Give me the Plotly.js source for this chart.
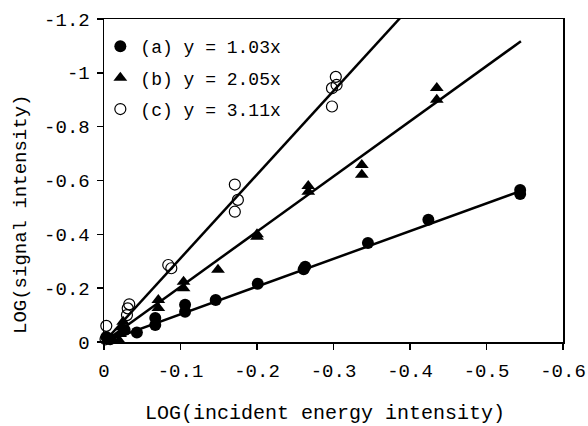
<!DOCTYPE html>
<html>
<head>
<meta charset="utf-8">
<script src="https://cdn.plot.ly/plotly-3.0.1.min.js"></script>
<style>html,body{margin:0;padding:0;background:#fff;}#chart{width:588px;height:426px;}</style>
</head>
<body>
<div id="chart"></div>
<script>
// Series (a): filled circles
const aX = [-0.003, -0.008, -0.027, -0.043, -0.067, -0.067, -0.106, -0.106, -0.146, -0.201, -0.261, -0.263, -0.345, -0.424, -0.544, -0.544];
const aY = [-0.019, -0.010, -0.045, -0.035, -0.063, -0.089, -0.112, -0.138, -0.156, -0.216, -0.270, -0.280, -0.368, -0.454, -0.550, -0.565];
// Series (b): filled triangles
const bX = [-0.020, -0.021, -0.023, -0.025, -0.071, -0.071, -0.104, -0.104, -0.149, -0.200, -0.200, -0.267, -0.267, -0.337, -0.337, -0.435, -0.435];
const bY = [-0.005, -0.030, -0.055, -0.075, -0.126, -0.156, -0.200, -0.224, -0.268, -0.391, -0.400, -0.558, -0.580, -0.621, -0.658, -0.900, -0.944];
// Series (c): open circles
const cX = [-0.002, -0.003, -0.030, -0.031, -0.033, -0.084, -0.088, -0.171, -0.175, -0.171, -0.298, -0.304, -0.303, -0.298];
const cY = [-0.010, -0.060, -0.100, -0.125, -0.140, -0.286, -0.274, -0.484, -0.528, -0.585, -0.875, -0.955, -0.985, -0.943];
// Fitted slopes and fit-line extents (x end)
const seriesNames = ['(a) y = 1.03x', '(b) y = 2.05x', '(c) y = 3.11x'];
const slopes = [1.03, 2.05, 3.11];
const fitEndX = [-0.545, -0.545, -0.40];
// Axis ticks
const xTicks = [0, -0.1, -0.2, -0.3, -0.4, -0.5, -0.6];
const xTickText = ['0', '-0.1', '-0.2', '-0.3', '-0.4', '-0.5', '-0.6'];
const yTicks = [0, -0.2, -0.4, -0.6, -0.8, -1, -1.2];
const yTickText = ['0', '-0.2', '-0.4', '-0.6', '-0.8', '-1', '-1.2'];
const xTitle = 'LOG(incident energy intensity)';
const yTitle = 'LOG(signal intensity)';

const FONT = '"Liberation Mono", "DejaVu Sans Mono", monospace';

const traces = [];
slopes.forEach((k, i) => {
  traces.push({
    x: [0, fitEndX[i]], y: [0, k * fitEndX[i]],
    mode: 'lines', type: 'scatter', showlegend: false, hoverinfo: 'skip',
    line: {color: '#000', width: 2.5}
  });
});
const symbols = ['circle', 'triangle-up', 'circle-open'];
const sizes = [12, 12, 11];
const xs = [aX, bX, cX], ys = [aY, bY, cY];
for (let i = 0; i < 3; i++) {
  traces.push({
    x: xs[i], y: ys[i], mode: 'markers', type: 'scatter', name: seriesNames[i],
    legendgroup: 'g' + i,
    marker: {
      symbol: symbols[i], size: sizes[i], color: '#000',
      line: {color: '#000', width: i === 2 ? 1.2 : 0}
    },
    cliponaxis: false
  });
}

const layout = {
  width: 588, height: 426,
  margin: {l: 104, r: 25, t: 19, b: 84},
  paper_bgcolor: '#fff', plot_bgcolor: '#fff',
  font: {family: FONT, size: 18, color: '#000'},
  showlegend: true,
  legend: {
    x: -0.008, y: 0.972, xanchor: 'left', yanchor: 'top',
    bgcolor: 'rgba(0,0,0,0)', borderwidth: 0,
    font: {family: FONT, size: 18, color: '#000'},
    traceorder: 'grouped', tracegroupgap: 5, itemwidth: 30
  },
  xaxis: {
    range: [0, -0.6], tickmode: 'array', tickvals: xTicks, ticktext: xTickText,
    ticks: 'outside', ticklen: 6, tickwidth: 1.5, tickcolor: '#000',
    showline: true, linecolor: '#000', linewidth: 1.5, mirror: true,
    showgrid: false, zeroline: false, ticklabelstandoff: 5,
    tickfont: {family: FONT, size: 19, color: '#000'}
  },
  yaxis: {
    range: [0, -1.2], tickmode: 'array', tickvals: yTicks, ticktext: yTickText,
    ticks: 'outside', ticklen: 6, tickwidth: 1.5, tickcolor: '#000',
    showline: true, linecolor: '#000', linewidth: 1.5, mirror: true,
    showgrid: false, zeroline: false, ticklabelstandoff: 3,
    tickfont: {family: FONT, size: 19, color: '#000'}
  },
  annotations: [
    {text: xTitle, xref: 'paper', yref: 'paper', x: (325 - 104) / 459, y: (342 - 414) / 323,
     xanchor: 'center', yanchor: 'middle', showarrow: false,
     font: {family: FONT, size: 20, color: '#000'}},
    {text: yTitle, xref: 'paper', yref: 'paper', x: (21 - 104) / 459, y: (342 - 215) / 323,
     xanchor: 'center', yanchor: 'middle', showarrow: false, textangle: -90,
     font: {family: FONT, size: 19, color: '#000'}}
  ]
};

Plotly.newPlot('chart', traces, layout, {displayModeBar: false, staticPlot: true});
</script>
</body>
</html>
